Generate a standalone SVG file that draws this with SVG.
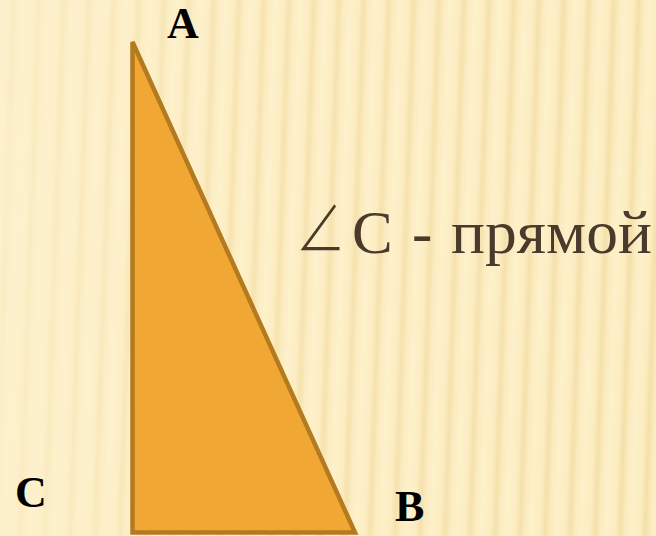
<svg xmlns="http://www.w3.org/2000/svg" width="656" height="536" viewBox="0 0 656 536">
<style>
.lbl{font-family:"Liberation Serif","Times New Roman",serif;font-weight:bold;font-size:44px;fill:#000}
.txt{font-family:"Liberation Serif","Times New Roman",serif;font-size:61px;fill:#4a3a2c}
.ang{font-family:"Noto Sans CJK SC",sans-serif;font-weight:300;font-size:68px;fill:#4a3a2c}
</style>
<defs>
<linearGradient id="sg" x1="0" y1="0" x2="1" y2="0">
<stop offset="0" stop-color="#fdf1ca"/>
<stop offset="0.35" stop-color="#fcecc0"/>
<stop offset="0.55" stop-color="#f4dfa8"/>
<stop offset="0.75" stop-color="#fbebbf"/>
<stop offset="1" stop-color="#fdf1ca"/>
</linearGradient>
<pattern id="stripes" width="25" height="536" patternUnits="userSpaceOnUse" patternTransform="skewX(-2)">
<rect width="25" height="536" fill="url(#sg)"/>
</pattern>
<linearGradient id="fade" x1="0" y1="0" x2="1" y2="0">
<stop offset="0" stop-color="#fdf2cf" stop-opacity="0.7"/>
<stop offset="0.35" stop-color="#fdf2cf" stop-opacity="0.2"/>
<stop offset="1" stop-color="#fdf2cf" stop-opacity="0"/>
</linearGradient>
</defs>
<rect width="656" height="536" fill="#fcefc6"/>
<rect width="656" height="536" fill="url(#stripes)"/>
<rect width="656" height="536" fill="url(#fade)"/>
<g id="triangle">
<polygon points="132.5,42 132.5,532.5 355,532.5" fill="#f0a733" stroke="#b47a20" stroke-width="4.5" stroke-linejoin="miter"/>
</g>
<g id="label-A"><text class="lbl" x="167" y="38">A</text></g>
<g id="label-C"><text class="lbl" x="15" y="507">C</text></g>
<g id="label-B"><text class="lbl" x="395" y="521">B</text></g>
<g id="caption">
<text class="ang" transform="translate(300,252) scale(0.74,1)" x="-6" y="0">∠</text>
<text class="txt" y="253"><tspan x="352">C</tspan><tspan x="412">-</tspan><tspan x="451" textLength="201" lengthAdjust="spacingAndGlyphs">прямой</tspan></text>
</g>
<g id="connectors"/>
</svg>
